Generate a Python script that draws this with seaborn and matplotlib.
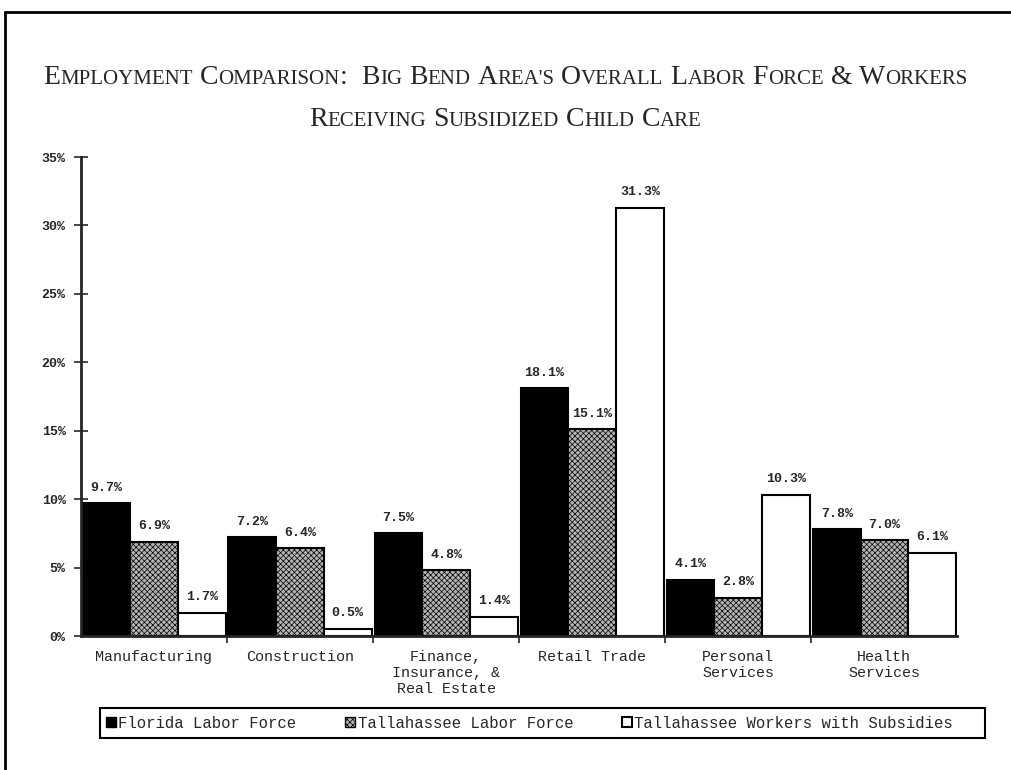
import pandas as pd
import matplotlib.pyplot as plt
import seaborn as sns
from matplotlib.lines import Line2D
from matplotlib.patches import Patch, Rectangle

sectors = ['Manufacturing', 'Construction', 'Finance,\nInsurance, &\nReal Estate',
           'Retail Trade', 'Personal\nServices', 'Health\nServices']
series = ['Florida Labor Force', 'Tallahassee Labor Force',
          'Tallahassee Workers with Subsidies']
florida = [9.7, 7.2, 7.5, 18.1, 4.1, 7.8]
tallahassee = [6.9, 6.4, 4.8, 15.1, 2.8, 7.0]
subsidies = [1.7, 0.5, 1.4, 31.3, 10.3, 6.1]
yticks = [0, 5, 10, 15, 20, 25, 30, 35]
ytick_labels = ['0%', '5%', '10%', '15%', '20%', '25%', '30%', '35%']
title_lines = ["Employment Comparison:  Big Bend Area's Overall Labor Force & Workers",
               "Receiving Subsidized Child Care"]

df = pd.DataFrame({
    'sector': sectors * 3,
    'series': [s for s in series for _ in sectors],
    'pct': florida + tallahassee + subsidies,
})

sns.set_style('ticks')
plt.rcParams['hatch.linewidth'] = 0.5
mono = 'Liberation Mono'
serif = 'Liberation Serif'
gray = '#b4b4b4'
hatch = 'xxxxxx'

fig = plt.figure(figsize=(10.11, 7.70), dpi=100)
ax = fig.add_axes([0.080, 0.174, 0.867, 0.622])

sns.barplot(data=df, x='sector', y='pct', hue='series', width=0.98,
            palette=['black', gray, 'white'], saturation=1,
            legend=False, ax=ax)

styles = [dict(fc='black', hatch=None), dict(fc=gray, hatch=hatch),
          dict(fc='white', hatch=None)]
vals = [florida, tallahassee, subsidies]
for cont, st, v in zip(ax.containers, styles, vals):
    for p in cont:
        p.set_facecolor(st['fc'])
        p.set_edgecolor('black')
        p.set_linewidth(1.5)
        if st['hatch']:
            p.set_hatch(st['hatch'])
    ax.bar_label(cont, labels=[f'{x:.1f}%' for x in v], padding=7,
                 fontsize=9.5, fontweight='bold', family=mono)

ax.set_xlim(-0.5, 5.5)
ax.set_ylim(0, 35)
ax.set_yticks(yticks)
ax.set_yticklabels(ytick_labels, family=mono, fontsize=9.5, fontweight='bold')
ax.set_xticks(range(len(sectors)))
ax.set_xticklabels(sectors, family=mono, fontsize=10.8)
ax.set_xticks([i + 0.5 for i in range(len(sectors) - 1)], minor=True)
ax.tick_params(axis='x', which='major', length=0, pad=10)
ax.tick_params(axis='x', which='minor', length=5, width=1.2, direction='out')
ax.tick_params(axis='y', length=10, width=1.2, direction='inout', pad=6)
ax.set_xlabel('')
ax.set_ylabel('')
sns.despine(ax=ax)
for s in ['left', 'bottom']:
    ax.spines[s].set_linewidth(2)

# legend: entries left-aligned inside a wider box
handles = [Patch(fc='black', ec='black'),
           Patch(fc=gray, ec='black', hatch=hatch),
           Patch(fc='white', ec='black', lw=1.5)]
leg = fig.legend(handles, series, loc='center left', ncol=3,
                 bbox_to_anchor=(0.094, 1 - 723 / 770),
                 handlelength=0.65, handleheight=0.65, handletextpad=0.15,
                 columnspacing=3.1, frameon=False, borderpad=0.2,
                 prop={'family': mono, 'size': 11.25})
fig.add_artist(Rectangle((100 / 1011, 1 - 738 / 770), 885 / 1011, 30 / 770,
                         transform=fig.transFigure, fill=False,
                         ec='black', lw=1.5))

# small-caps title built from runs of two sizes
big, small = 20, 15
renderer = fig.canvas.get_renderer()


def smallcaps(text, y):
    arts = []
    x = 0.0
    gap = 0.25 * big * fig.dpi / 72
    for word in text.split(' '):
        if word == '':
            x += gap
            continue
        runs = []
        for ch in word:
            sz = small if (ch.islower() or ch == "'") else big
            if runs and runs[-1][1] == sz:
                runs[-1][0] += ch.upper()
            else:
                runs.append([ch.upper(), sz])
        for s, sz in runs:
            t = fig.text(x / fig.bbox.width, y, s, fontsize=sz, family=serif,
                         va='baseline', ha='left')
            w = t.get_window_extent(renderer).width
            arts.append((t, x))
            x += w
        x += gap
    total = x - gap
    x0 = (fig.bbox.width - total) / 2
    for t, xx in arts:
        t.set_x((x0 + xx) / fig.bbox.width)


smallcaps(title_lines[0], 1 - 84 / 770)
smallcaps(title_lines[1], 1 - 126 / 770)

# page border
fig.add_artist(Line2D([0.005, 1.0], [0.985, 0.985], color='black', lw=2,
                      transform=fig.transFigure))
fig.add_artist(Line2D([0.005, 0.005], [0.0, 0.985], color='black', lw=2,
                      transform=fig.transFigure))

fig.savefig('out.png', dpi=100)
